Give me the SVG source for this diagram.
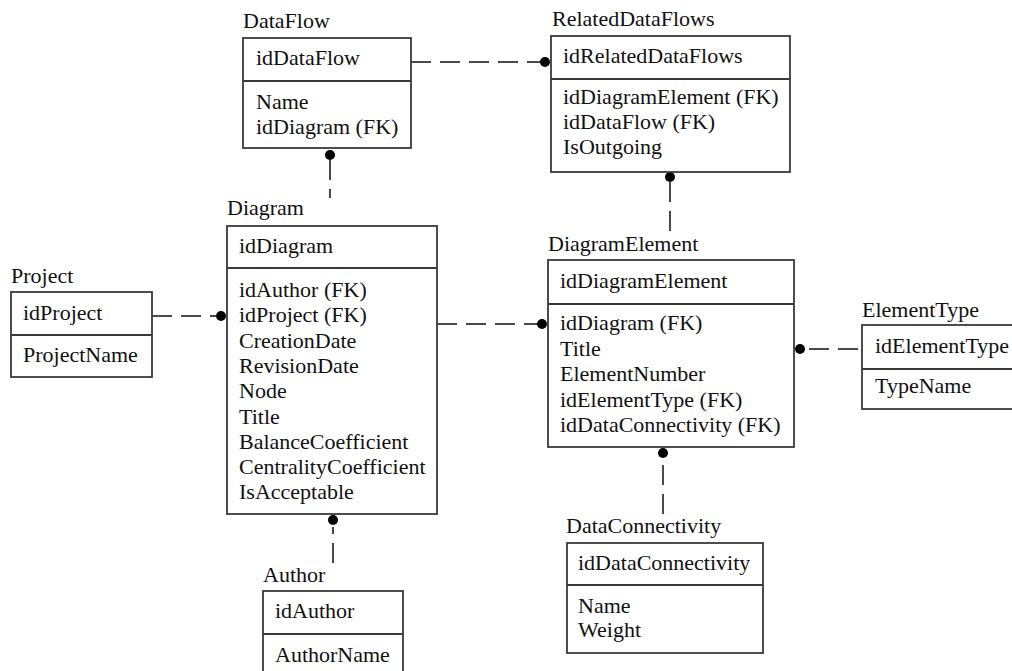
<svg xmlns="http://www.w3.org/2000/svg" width="1012" height="671" viewBox="0 0 1012 671">
<style>
text{font-family:"Liberation Serif","Times New Roman",serif;font-size:22px;fill:#111}
.box{fill:#fff;stroke:#3a3a3a;stroke-width:1.8}
.div{stroke:#3a3a3a;stroke-width:1.8}
.con{stroke:#4a4a4a;stroke-width:2;stroke-dasharray:20 9;fill:none}
.dot{fill:#000}
</style>
<rect width="1012" height="671" fill="#fff"/>
<g id="connectors">
<line class="con" x1="411" y1="62" x2="545" y2="62"/><circle class="dot" cx="545" cy="62" r="5"/>
<line class="con" x1="330" y1="160" x2="330" y2="198"/><circle class="dot" cx="330" cy="155" r="5"/>
<line class="con" x1="670" y1="182" x2="670" y2="232"/><circle class="dot" cx="670" cy="177" r="5"/>
<line class="con" x1="152" y1="316" x2="221" y2="316"/><circle class="dot" cx="221" cy="316" r="5"/>
<line class="con" x1="437" y1="324" x2="542" y2="324"/><circle class="dot" cx="542" cy="324" r="5"/>
<line class="con" x1="805" y1="349" x2="862" y2="349" stroke-dashoffset="-4"/><circle class="dot" cx="800" cy="349" r="5"/>
<line class="con" x1="333" y1="527" x2="333" y2="563" stroke-dashoffset="13"/><circle class="dot" cx="333" cy="520" r="5"/>
<line class="con" x1="663" y1="465" x2="663" y2="515"/><circle class="dot" cx="663" cy="453" r="5"/>
</g>
<g id="DataFlow">
<text x="243" y="28">DataFlow</text>
<rect class="box" x="243" y="38" width="168" height="110"/>
<line class="div" x1="243" y1="81" x2="411" y2="81"/>
<text x="256" y="65">idDataFlow</text>
<text x="256" y="109">Name</text>
<text x="256" y="134">idDiagram (FK)</text>
</g>
<g id="RelatedDataFlows">
<text x="552" y="26">RelatedDataFlows</text>
<rect class="box" x="551" y="36" width="239" height="136"/>
<line class="div" x1="551" y1="79" x2="790" y2="79"/>
<text x="563" y="63">idRelatedDataFlows</text>
<text x="563" y="104">idDiagramElement (FK)</text>
<text x="563" y="129">idDataFlow (FK)</text>
<text x="563" y="154">IsOutgoing</text>
</g>
<g id="Diagram">
<text x="227" y="215">Diagram</text>
<rect class="box" x="227" y="226" width="210" height="288"/>
<line class="div" x1="227" y1="268" x2="437" y2="268"/>
<text x="239" y="253">idDiagram</text>
<text x="239" y="297">idAuthor (FK)</text>
<text x="239" y="322.3">idProject (FK)</text>
<text x="239" y="347.6">CreationDate</text>
<text x="239" y="372.9">RevisionDate</text>
<text x="239" y="398.2">Node</text>
<text x="239" y="423.5">Title</text>
<text x="239" y="448.8">BalanceCoefficient</text>
<text x="239" y="474.1">CentralityCoefficient</text>
<text x="239" y="499.4">IsAcceptable</text>
</g>
<g id="Project">
<text x="11" y="283">Project</text>
<rect class="box" x="11" y="292" width="141" height="85"/>
<line class="div" x1="11" y1="335" x2="152" y2="335"/>
<text x="23" y="320">idProject</text>
<text x="23" y="362">ProjectName</text>
</g>
<g id="DiagramElement">
<text x="548" y="251">DiagramElement</text>
<rect class="box" x="548" y="260" width="246" height="187"/>
<line class="div" x1="548" y1="304" x2="794" y2="304"/>
<text x="560" y="288">idDiagramElement</text>
<text x="560" y="330">idDiagram (FK)</text>
<text x="560" y="355.5">Title</text>
<text x="560" y="381">ElementNumber</text>
<text x="560" y="406.5">idElementType (FK)</text>
<text x="560" y="432">idDataConnectivity (FK)</text>
</g>
<g id="ElementType">
<text x="862" y="317">ElementType</text>
<rect class="box" x="862" y="325" width="170" height="84"/>
<line class="div" x1="862" y1="369" x2="1032" y2="369"/>
<text x="875" y="353">idElementType</text>
<text x="875" y="393">TypeName</text>
</g>
<g id="DataConnectivity">
<text x="566" y="533">DataConnectivity</text>
<rect class="box" x="567" y="543" width="196" height="110"/>
<line class="div" x1="567" y1="585" x2="763" y2="585"/>
<text x="578" y="570">idDataConnectivity</text>
<text x="578" y="613">Name</text>
<text x="578" y="637">Weight</text>
</g>
<g id="Author">
<text x="263" y="582">Author</text>
<rect class="box" x="263" y="591" width="140" height="100"/>
<line class="div" x1="263" y1="634" x2="403" y2="634"/>
<text x="275" y="618">idAuthor</text>
<text x="275" y="662">AuthorName</text>
</g>
</svg>
